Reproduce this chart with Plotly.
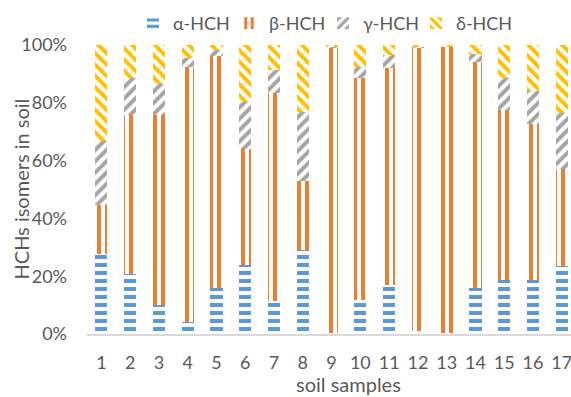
import plotly.graph_objects as go

samples = list(range(1, 18))
tick_labels = [str(s) for s in samples]
y_ticks = [0, 20, 40, 60, 80, 100]
y_tick_labels = ["0%", "20%", "40%", "60%", "80%", "100%"]
series_names = ["α-HCH", "β-HCH", "γ-HCH", "δ-HCH"]

alpha = [27.6, 20.9, 9.9, 4.0, 15.8, 23.9, 11.3, 29.1, 0.2, 11.8, 16.8, 1.2, 0.2, 15.8, 18.7, 18.7, 23.5]
beta = [17.0, 54.9, 65.9, 88.3, 80.5, 40.1, 72.2, 23.8, 99.0, 76.9, 75.4, 98.0, 99.4, 78.4, 58.7, 54.0, 33.6]
gamma = [22.3, 12.7, 10.6, 3.3, 2.0, 16.2, 8.0, 23.8, 0.3, 3.8, 4.3, 0.4, 0.0, 2.7, 11.3, 11.4, 19.3]
delta = [33.1, 11.5, 13.6, 4.4, 1.7, 19.8, 8.5, 23.3, 0.5, 7.5, 3.5, 0.4, 0.4, 3.1, 11.3, 15.9, 23.6]

colors = ["#5B9BD5", "#ED7D31", "#A5A5A5", "#FFC000"]
shapes = ["-", "|", "/", "\\"]
TEXT = "#595959"
FONT = "Lato"

PLOT_L, PLOT_W, PLOT_T, PLOT_H = 87, 484, 45, 289
legend_left_px = [133, 229, 323, 416]
legend_ids = ["legend", "legend2", "legend3", "legend4"]

fig = go.Figure()
for name, vals, col, shp, lid in zip(series_names, [alpha, beta, gamma, delta], colors, shapes, legend_ids):
    fig.add_trace(go.Bar(
        x=samples, y=vals, name=name, width=0.42, legend=lid, showlegend=True,
        marker=dict(color="white", line=dict(width=0),
                    pattern=dict(shape=shp, fgcolor=col, bgcolor="white",
                                 size=8, solidity=0.5, fillmode="replace")),
    ))

legend_layouts = {}
for lid, px in zip(legend_ids, legend_left_px):
    legend_layouts[lid] = dict(orientation="h", x=(px - PLOT_L) / PLOT_W, xanchor="left",
                               y=(PLOT_T + PLOT_H - 23.5) / PLOT_H, yanchor="middle",
                               font=dict(size=18, color=TEXT), bgcolor="rgba(0,0,0,0)")

fig.update_layout(
    barmode="stack", barnorm="percent",
    width=571, height=397, showlegend=True,
    margin=dict(l=PLOT_L, r=571 - PLOT_L - PLOT_W, t=PLOT_T, b=397 - PLOT_T - PLOT_H, autoexpand=False),
    paper_bgcolor="white", plot_bgcolor="white",
    font=dict(family=FONT, size=18, color=TEXT),
    xaxis=dict(range=[0.5, 17.32], tickmode="array", tickvals=samples, ticktext=tick_labels,
               showline=True, linecolor="#D9D9D9", linewidth=1.5, showgrid=False,
               zeroline=False, ticks="outside", ticklen=12, tickcolor="rgba(0,0,0,0)",
               tickfont=dict(size=18, color=TEXT),
               ticklabeloverflow="allow", automargin=False),
    yaxis=dict(range=[0, 100], tickmode="array", tickvals=y_ticks, ticktext=y_tick_labels,
               showgrid=False, zeroline=False, showline=False, ticks="", automargin=False,
               ticklabelstandoff=19, tickfont=dict(size=18, color=TEXT)),
    annotations=[
        dict(text="HCHs isomers in soil", textangle=-90, xref="paper", yref="paper",
             x=(20 - PLOT_L) / PLOT_W, y=0.5, xanchor="center", yanchor="middle",
             showarrow=False, font=dict(size=20, color=TEXT)),
        dict(text="soil samples", xref="paper", yref="paper",
             x=(348 - PLOT_L) / PLOT_W, y=(PLOT_T + PLOT_H - 383.5) / PLOT_H,
             xanchor="center", yanchor="middle",
             showarrow=False, font=dict(size=20, color=TEXT)),
    ],
    **legend_layouts,
)

fig.write_html("out.html")
